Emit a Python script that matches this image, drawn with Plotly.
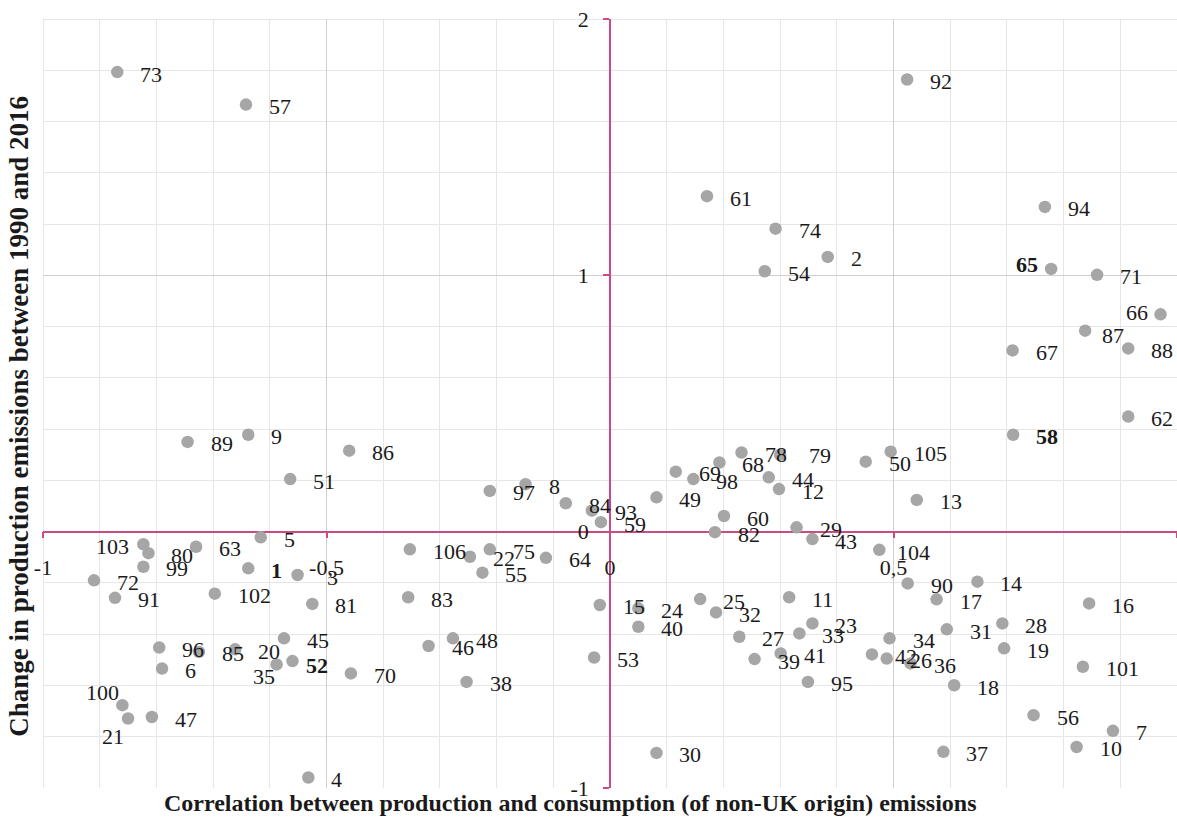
import plotly.graph_objects as go

# ---------------- data ----------------
ids = [1, 2, 3, 4, 5, 6, 7, 8, 9, 10,
       11, 12, 13, 14, 15, 16, 17, 18, 19, 20,
       21, 22, 23, 24, 25, 26, 27, 28, 29, 30,
       31, 32, 33, 34, 35, 36, 37, 38, 39, 40,
       41, 42, 43, 44, 45, 46, 47, 48, 49, 50,
       51, 52, 53, 54, 55, 56, 57, 58, 59, 60,
       61, 62, 63, 64, 65, 66, 67, 68, 69, 70,
       71, 72, 73, 74, 75, 78, 79, 80, 81, 82,
       83, 84, 85, 86, 87, 88, 89, 90, 91, 92,
       93, 94, 95, 96, 97, 98, 99, 100, 101, 102,
       103, 104, 105, 106]

correlation = [-0.638, 0.384, -0.551, -0.532, -0.616, -0.790, 0.887, -0.149, -0.638, 0.823,
               0.316, 0.298, 0.541, 0.648, -0.018, 0.845, 0.576, 0.607, 0.695, -0.661,
               -0.850, -0.247, 0.357, 0.050, 0.159, 0.488, 0.228, 0.692, 0.329, 0.082,
               0.594, 0.187, 0.334, 0.493, -0.588, 0.530, 0.588, -0.253, 0.255, 0.050,
               0.301, 0.462, 0.357, 0.280, -0.575, -0.320, -0.808, -0.277, 0.082, 0.451,
               -0.564, -0.560, -0.028, 0.273, -0.225, 0.747, -0.642, 0.711, -0.016, 0.201,
               0.171, 0.914, -0.730, -0.113, 0.778, 0.971, 0.710, 0.193, 0.116, -0.457,
               0.859, -0.910, -0.869, 0.292, -0.212, 0.232, 0.300, -0.814, -0.525, 0.185,
               -0.356, -0.078, -0.725, -0.460, 0.838, 0.914, -0.745, 0.525, -0.873, 0.524,
               -0.032, 0.767, 0.349, -0.795, -0.212, 0.147, -0.823, -0.860, 0.834, -0.697,
               -0.823, 0.475, 0.495, -0.353]

change = [-0.143, 1.072, -0.169, -0.959, -0.022, -0.534, -0.777, 0.185, 0.378, -0.840,
          -0.256, 0.166, 0.124, -0.195, -0.286, -0.280, -0.264, -0.599, -0.455, -0.459,
          -0.729, -0.098, -0.358, -0.299, -0.263, -0.495, -0.410, -0.358, 0.017, -0.863,
          -0.381, -0.315, -0.397, -0.416, -0.518, -0.514, -0.859, -0.586, -0.497, -0.371,
          -0.475, -0.479, -0.029, 0.212, -0.416, -0.446, -0.723, -0.416, 0.134, 0.273,
          0.205, -0.505, -0.491, 1.016, -0.160, -0.716, 1.666, 0.378, 0.037, 0.061,
          1.309, 0.449, -0.059, -0.102, 1.025, 0.848, 0.707, 0.270, 0.234, -0.553,
          1.002, -0.190, 1.793, 1.182, -0.069, 0.309, 0.300, -0.084, -0.282, -0.002,
          -0.256, 0.111, -0.469, 0.316, 0.784, 0.715, 0.350, -0.202, -0.258, 1.764,
          0.082, 1.267, -0.586, -0.452, 0.159, 0.205, -0.137, -0.677, -0.527, -0.242,
          -0.049, -0.071, 0.312, -0.069]

bold_ids = [1, 52, 58, 65]

x_tick_vals = [-1, -0.5, 0, 0.5, 1]
x_tick_text = ["-1", "-0,5", "0", "0,5", "1"]
y_tick_vals = [-1, 0, 1, 2]
y_tick_text = ["-1", "0", "1", "2"]

x_title = "Correlation between production and consumption (of non-UK origin) emissions"
y_title = "Change in production emissions between 1990 and 2016"

# ---------------- styling ----------------
FONT = "Liberation Serif"
PINK = "#cc4a84"
DOT = "#a6a6a6"
LABEL_SIZE = 22
TEXT = "#1a1a1a"

# label placement exceptions: (xanchor, xshift px, yshift px)
label_place = {
    65: ("right", -11, 4),
    66: ("right", -11, 2),
    87: ("left", 15, -5),
    104: ("left", 16, -3),
    103: ("right", -12, -2),
    35: ("right", 0, -12),
    100: ("right", -1, 13),
    21: ("right", -2, -18),
    52: ("left", 12, -4),
    3: ("left", 27, -3),
    79: ("left", 27, -1),
}

fig = go.Figure()
fig.add_trace(go.Scatter(
    x=correlation, y=change, mode="markers",
    marker=dict(size=12.5, color=DOT),
    hoverinfo="skip", cliponaxis=False, showlegend=False,
))

annotations = []
for pid, xv, yv in zip(ids, correlation, change):
    anchor, xs, ys = label_place.get(pid, ("left", 21, -2))
    txt = f"<b>{pid}</b>" if pid in bold_ids else str(pid)
    annotations.append(dict(
        x=xv, y=yv, xref="x", yref="y", text=txt, showarrow=False,
        xanchor=anchor, yanchor="middle", xshift=xs, yshift=ys,
        font=dict(family=FONT, size=LABEL_SIZE, color=TEXT),
    ))

annotations.append(dict(
    x=0.465, y=-0.0195, xref="paper", yref="paper", text=f"<b>{x_title}</b>",
    showarrow=False, xanchor="center", yanchor="middle",
    font=dict(family=FONT, size=24, color=TEXT),
))
annotations.append(dict(
    x=-0.0212, y=0.484, xref="paper", yref="paper", text=f"<b>{y_title}</b>",
    showarrow=False, xanchor="center", yanchor="middle", textangle=-90,
    font=dict(family=FONT, size=27, color=TEXT),
))

# plot-area border lines along the left and top edges (grid at x=-1 and y=2)
shapes = [
    dict(type="line", xref="x", yref="paper", x0=x_tick_vals[0], x1=x_tick_vals[0], y0=0, y1=1,
         line=dict(color="#cfcfcf", width=1), layer="below"),
    dict(type="line", xref="paper", yref="y", x0=0, x1=1, y0=y_tick_vals[-1], y1=y_tick_vals[-1],
         line=dict(color="#cfcfcf", width=1), layer="below"),
]

axis_common = dict(
    showline=True, linecolor=PINK, linewidth=1.5,
    ticks="outside", ticklen=6, tickcolor=PINK, tickwidth=1.5,
    tickmode="array",
    tickfont=dict(family=FONT, size=22, color=TEXT),
    ticklabelstandoff=10,
    showgrid=True, gridcolor="#cfcfcf", gridwidth=1,
    zeroline=False, layer="below traces", automargin=False, fixedrange=True,
)

fig.update_layout(
    width=1177, height=820,
    margin=dict(l=43, r=0, t=19, b=32),
    plot_bgcolor="white", paper_bgcolor="white",
    annotations=annotations, shapes=shapes,
    xaxis=dict(
        range=[-1, 1], anchor="free", position=1/3,
        tickvals=x_tick_vals, ticktext=x_tick_text,
        minor=dict(tickmode="linear", tick0=0, dtick=0.1, showgrid=True,
                   gridcolor="#e6e6e6", gridwidth=1, ticks=""),
        **axis_common,
    ),
    yaxis=dict(
        range=[-1, 2], anchor="free", position=0.5,
        tickvals=y_tick_vals, ticktext=y_tick_text,
        minor=dict(tickmode="linear", tick0=0, dtick=0.2, showgrid=True,
                   gridcolor="#e6e6e6", gridwidth=1, ticks=""),
        **axis_common,
    ),
)

fig.write_html("out.html")
